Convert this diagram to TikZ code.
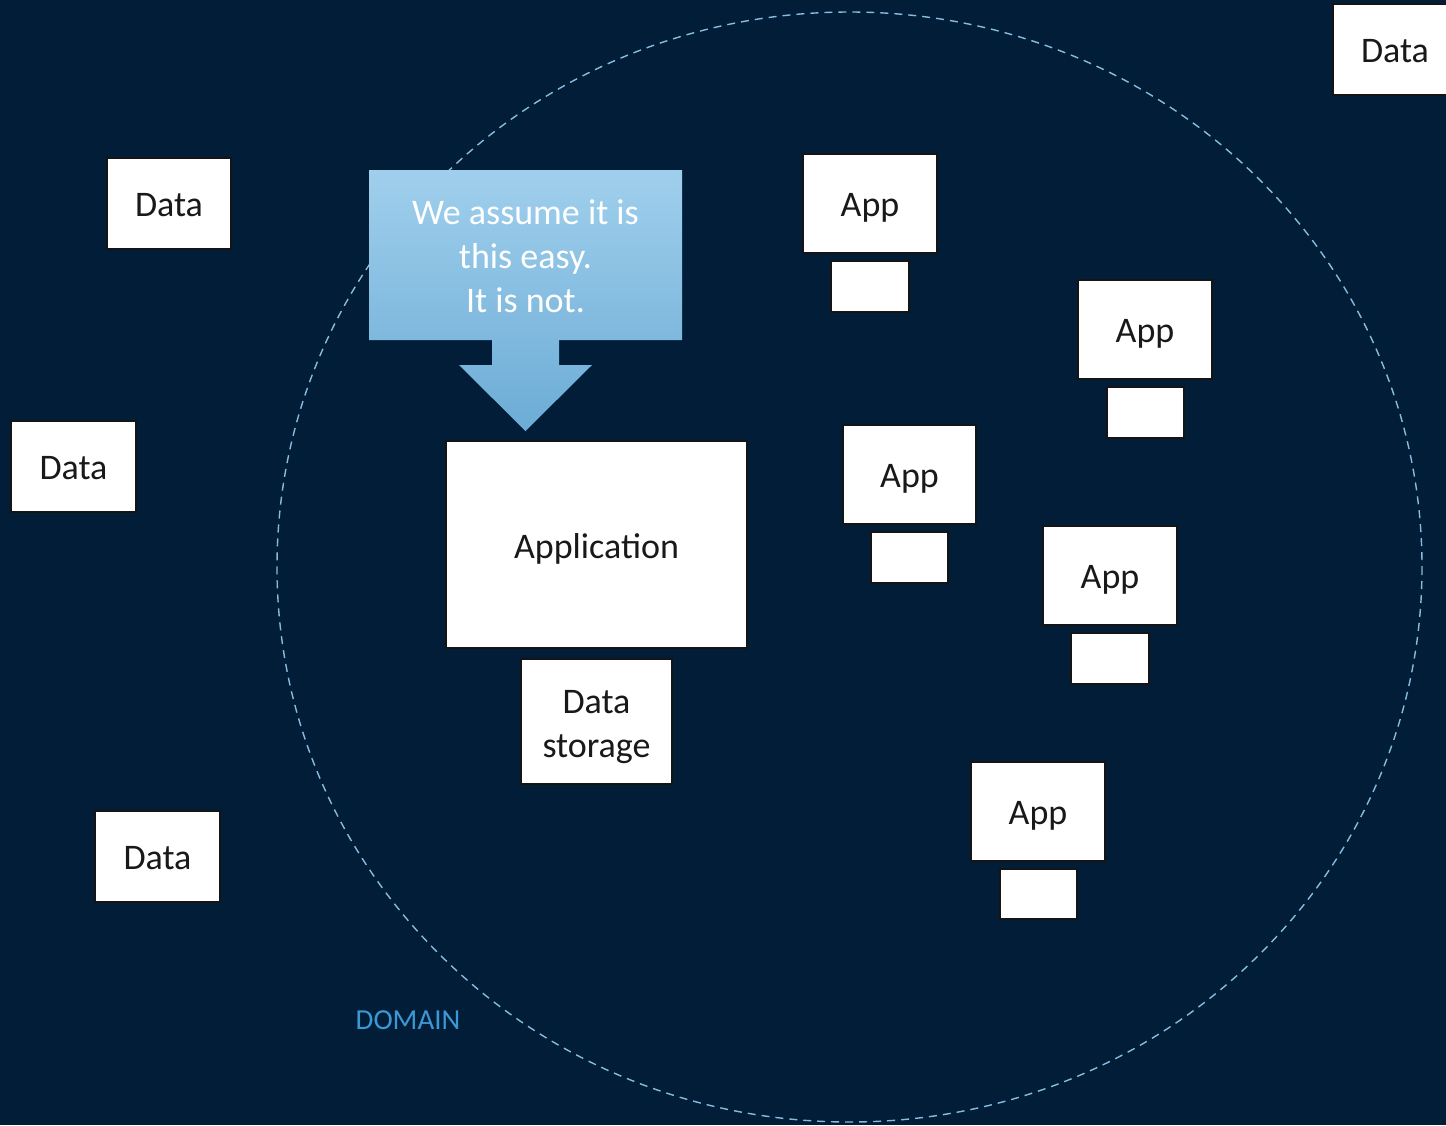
\documentclass[tikz,border=0pt]{standalone}
\usepackage{fontspec}
\setmainfont{Carlito}
\definecolor{bgnavy}{RGB}{1,29,56}
\definecolor{ringblue}{RGB}{135,188,222}
\definecolor{calltop}{RGB}{160,207,236}
\definecolor{callbot}{RGB}{108,172,214}
\definecolor{domblue}{RGB}{60,152,212}
\definecolor{boxline}{RGB}{20,20,20}
\newcommand{\dn}[2]{\raisebox{-#1pt}[\height][\depth]{#2}}
\tikzset{
  whitebox/.style={draw=boxline, line width=2.5pt, fill=white, inner sep=0pt, align=center,
    font=\fontsize{36}{44}\selectfont, text=black!90},
}
\begin{document}
\begin{tikzpicture}[x=1pt,y=-1pt]
\useasboundingbox (0,0) rectangle (1446,1125);
\clip (0,0) rectangle (1446,1125);
\fill[bgnavy] (0,0) rectangle (1446,1125);
% domain ring
\draw[ringblue, line width=1.4pt, dash pattern=on 8pt off 6pt] (849.5,567) ellipse [x radius=572.5, y radius=555];
\node[domblue, font=\fontsize{29}{34}\selectfont] (domain) at (408,1020) {DOMAIN};
% outside data
\node[whitebox, minimum width=124, minimum height=91] (d1) at (169,203.5) {\dn{2}{Data}};
\node[whitebox, minimum width=125, minimum height=91] (d2) at (73.5,466.5) {\dn{2}{Data}};
\node[whitebox, minimum width=125, minimum height=91] (d3) at (157.5,856.5) {\dn{2}{Data}};
\node[whitebox, minimum width=130, minimum height=91, text width=126, align=left] (d4) at (1398,49.5) {\hspace{26pt}\dn{2}{Data}};
% callout arrow
\shade[top color=calltop, bottom color=callbot]
  (369,170) -- (682,170) -- (682,340) -- (559,340) -- (559,365) -- (592,365)
  -- (525.5,431) -- (459,365) -- (492,365) -- (492,340) -- (369,340) -- cycle;
\node[text=white, align=center, font=\fontsize{36}{44}\selectfont] (callout) at (525.5,256)
  {We assume it is\\this easy.\\It is not.};
% application
\node[whitebox, minimum width=301, minimum height=207] (app) at (596.5,544.5) {\dn{4}{Application}};
\node[whitebox, minimum width=151, minimum height=125] (store) at (596.5,721.5)
  {\dn{5}{\begin{tabular}{@{}c@{}}Data\\storage\end{tabular}}};
% apps with small boxes
\node[whitebox, minimum width=134, minimum height=99] (a1) at (870,203.5) {\dn{4}{App}};
\node[whitebox, minimum width=78, minimum height=51] (s1) at (870,286.5) {};
\node[whitebox, minimum width=134, minimum height=99] (a2) at (1145,329.5) {\dn{4}{App}};
\node[whitebox, minimum width=77, minimum height=51] (s2) at (1145.5,412.5) {};
\node[whitebox, minimum width=133, minimum height=99] (a3) at (909.5,474.5) {\dn{4}{App}};
\node[whitebox, minimum width=77, minimum height=51] (s3) at (909.5,557.5) {};
\node[whitebox, minimum width=134, minimum height=99] (a4) at (1110,575.5) {\dn{4}{App}};
\node[whitebox, minimum width=78, minimum height=51] (s4) at (1110,658.5) {};
\node[whitebox, minimum width=134, minimum height=99] (a5) at (1038,811.5) {\dn{4}{App}};
\node[whitebox, minimum width=77, minimum height=50] (s5) at (1038.5,894) {};
\end{tikzpicture}
\end{document}
